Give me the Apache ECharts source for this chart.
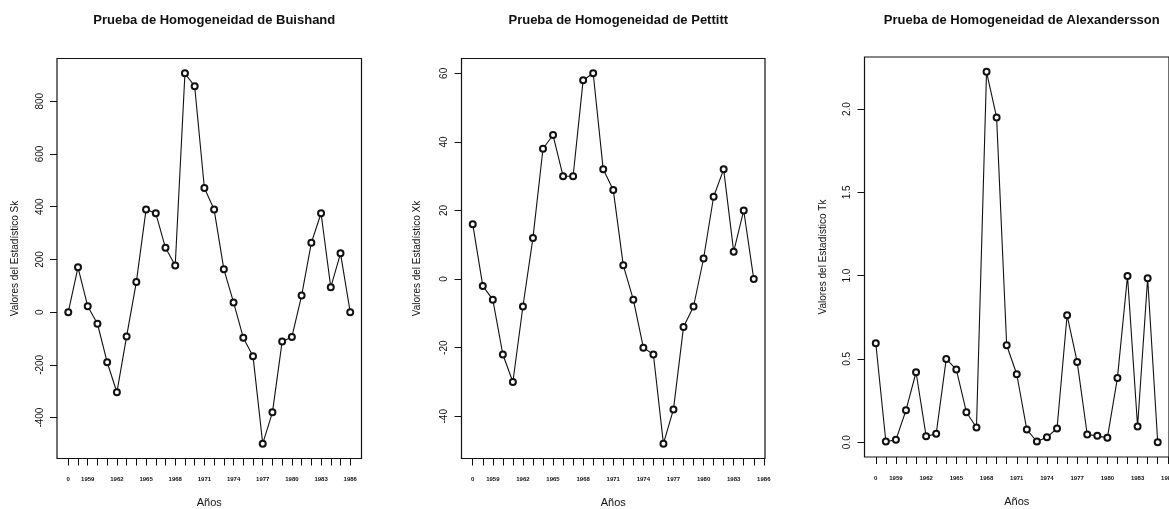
<!DOCTYPE html>
<html>
<head>
<meta charset="utf-8">
<script src="https://cdn.jsdelivr.net/npm/echarts@6/dist/echarts.min.js"></script>
<style>
  html, body { margin: 0; padding: 0; background: #fff; }
  #chart { width: 1169px; height: 509px; }
</style>
</head>
<body>
<div id="chart"></div>
<script>
// tick labels on the year axis (first position is drawn as "0")
const yearLabels = ['0', '1958', '1959', '1960', '1961', '1962', '1963', '1964', '1965', '1966',
  '1967', '1968', '1969', '1970', '1971', '1972', '1973', '1974', '1975', '1976',
  '1977', '1978', '1979', '1980', '1981', '1982', '1983', '1984', '1985', '1986'];
const labelledTicks = [0, 2, 5, 8, 11, 14, 17, 20, 23, 26, 29];

// Buishand Sk
const buishandSk = [0, 170, 22, -44, -190, -304, -92, 114, 389, 375, 244, 177, 906, 857, 471,
  389, 163, 37, -97, -167, -499, -380, -111, -94, 63, 263, 375, 94, 223, 0];
// Pettitt Xk
const pettittXk = [16, -2, -6, -22, -30, -8, 12, 38, 42, 30, 30, 58, 60, 32, 26, 4, -6, -20,
  -22, -48, -38, -14, -8, 6, 24, 32, 8, 20, 0];
// Alexandersson Tk
const alexTk = [0.594, 0.004, 0.014, 0.192, 0.42, 0.036, 0.05, 0.5, 0.436, 0.18, 0.088, 2.224,
  1.95, 0.582, 0.408, 0.076, 0.004, 0.03, 0.082, 0.762, 0.482, 0.046, 0.038, 0.026, 0.386,
  0.998, 0.094, 0.984, 0];

const yTicksSk = [-400, -200, 0, 200, 400, 600, 800];
const yTicksXk = [-40, -20, 0, 20, 40, 60];
const yTicksTk = [0, 0.5, 1, 1.5, 2];

const titles = ['Prueba de Homogeneidad de Buishand', 'Prueba de Homogeneidad de Pettitt',
  'Prueba de Homogeneidad de Alexandersson'];
const yNames = ['Valores del Estadístico Sk', 'Valores del Estadístico Xk', 'Valores del Estadístico Tk'];

const font = 'Liberation Sans, Arial, sans-serif';

// R-style 4% padding of the data range
function pad(lo, hi) {
  const p = (hi - lo) * 0.04;
  return [lo - p, hi + p];
}

const panels = [
  { vals: buishandSk, ticks: yTicksSk, fmt: v => String(v), grid: { left: 57, top: 58.5, width: 304.5, height: 400 }, gap: 37 },
  { vals: pettittXk, ticks: yTicksXk, fmt: v => String(v), grid: { left: 461.5, top: 58.5, width: 303.5, height: 400 }, gap: 39 },
  { vals: alexTk, ticks: yTicksTk, fmt: v => v.toFixed(1), grid: { left: 864.5, top: 57, width: 304.5, height: 400 }, gap: 36 }
];

const option = {
  backgroundColor: '#fff',
  animation: false,
  title: [],
  grid: [],
  xAxis: [],
  yAxis: [],
  series: []
};

panels.forEach((p, i) => {
  const n = p.vals.length;
  const xr = pad(0, n - 1);
  const yr = pad(Math.min(...p.vals), Math.max(...p.vals));

  option.title.push({
    text: titles[i],
    left: p.grid.left + p.grid.width / 2,
    top: 9,
    textAlign: 'center',
    textStyle: { fontFamily: font, fontSize: 13, fontWeight: 'bold', color: '#111' }
  });

  option.grid.push(Object.assign({
    show: true,
    borderColor: '#111',
    borderWidth: 1.2,
    backgroundColor: 'transparent',
    containLabel: false,
    outerBoundsMode: 'none'
  }, p.grid));

  option.xAxis.push({
    type: 'value',
    gridIndex: i,
    min: xr[0],
    max: xr[1],
    name: 'Años',
    nameLocation: 'middle',
    nameGap: 39,
    nameTextStyle: { fontFamily: font, fontSize: 11, color: '#111' },
    axisLine: { show: false, onZero: false },
    splitLine: { show: false },
    axisTick: {
      show: true,
      length: 7,
      customValues: yearLabels.map((_, k) => k),
      lineStyle: { color: '#111', width: 1 }
    },
    axisLabel: {
      margin: 18,
      customValues: labelledTicks,
      formatter: v => yearLabels[Math.round(v)],
      fontFamily: font,
      fontSize: 6,
      fontWeight: 'bold',
      color: '#111'
    }
  });

  option.yAxis.push({
    type: 'value',
    gridIndex: i,
    min: yr[0],
    max: yr[1],
    name: yNames[i],
    nameLocation: 'middle',
    nameGap: p.gap,
    nameTextStyle: { fontFamily: font, fontSize: 10, color: '#111' },
    axisLine: { show: false, onZero: false },
    splitLine: { show: false },
    axisTick: {
      show: true,
      length: 7,
      customValues: p.ticks,
      lineStyle: { color: '#111', width: 1 }
    },
    axisLabel: {
      rotate: 90,
      margin: 12,
      customValues: p.ticks,
      formatter: p.fmt,
      fontFamily: font,
      fontSize: 10,
      color: '#111'
    }
  });

  option.series.push({
    type: 'line',
    xAxisIndex: i,
    yAxisIndex: i,
    data: p.vals.map((v, k) => [k, v]),
    symbol: 'emptyCircle',
    symbolSize: 6,
    showAllSymbol: true,
    lineStyle: { color: '#111', width: 1.1 },
    itemStyle: { color: '#111', borderColor: '#111', borderWidth: 1.3 }
  });
});

const chart = echarts.init(document.getElementById('chart'), null, { renderer: 'canvas' });
chart.setOption(option);
</script>
</body>
</html>
